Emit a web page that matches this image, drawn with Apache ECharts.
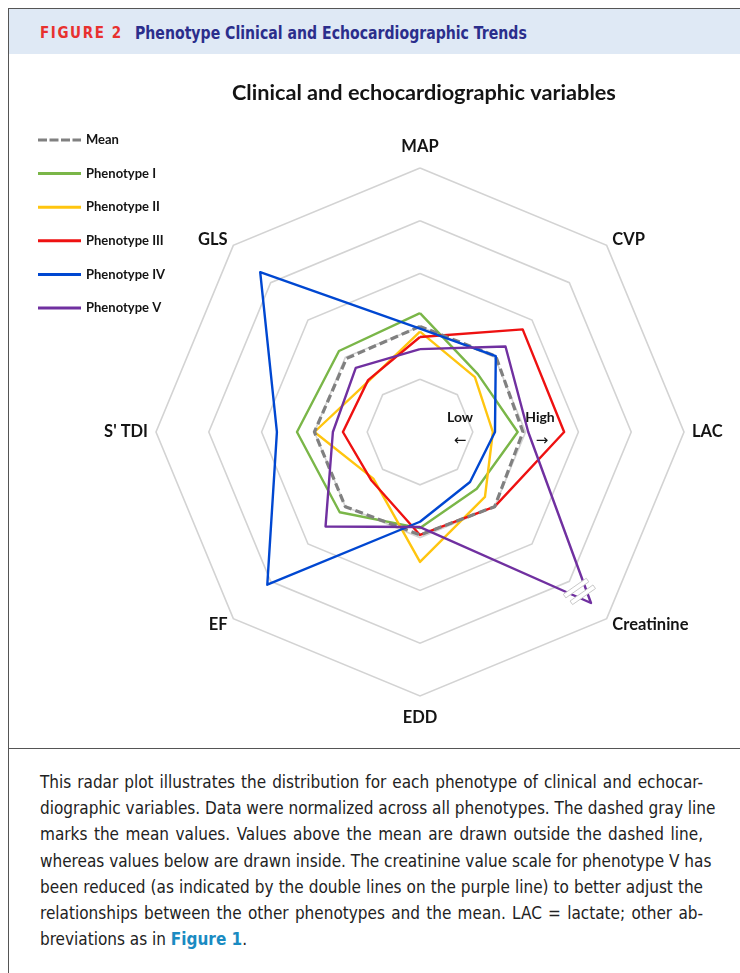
<!DOCTYPE html>
<html>
<head>
<meta charset="utf-8">
<script src="https://cdn.jsdelivr.net/npm/echarts@6/dist/echarts.min.js"></script>
<style>
  body { margin: 0; width: 740px; height: 973px; background: #fff; position: relative; overflow: hidden; }
  #frameTop { position: absolute; left: 8px; top: 8px; width: 732px; height: 0; border-top: 1.5px solid #555; }
  #frameLeft { position: absolute; left: 8px; top: 8px; width: 0; height: 965px; border-left: 1.5px solid #555; }
  #header { position: absolute; left: 9px; top: 9px; width: 731px; height: 45px; background: #dfe9f5; }
  #header span { position: absolute; font-family: "DejaVu Sans Condensed", sans-serif; font-weight: bold; white-space: nowrap; transform-origin: left center; }
  #fig { left: 31px; top: 15px; font-size: 15px; letter-spacing: 1.6px; color: #e8312f; }
  #ttl { left: 126px; top: 13px; font-size: 18px; color: #2b2e8c; transform: scaleX(0.87); }
  #rule { position: absolute; left: 8px; top: 748px; width: 732px; height: 0; border-top: 1.5px solid #555; }
  #chart { position: absolute; left: 0; top: 0; width: 740px; height: 748px; }
  #caption { position: absolute; left: 40px; top: 769px; font-family: "DejaVu Sans Condensed", sans-serif; font-size: 17px; line-height: 26.2px; color: #222; }
  #caption div { width: 663px; white-space: nowrap; text-align: justify; text-align-last: justify; }
  #caption div.last { text-align-last: left; }
  #caption b { color: #1a8bc2; }
</style>
</head>
<body>
<div id="header"><span id="fig">FIGURE 2</span><span id="ttl">Phenotype Clinical and Echocardiographic Trends</span></div>
<div id="frameTop"></div>
<div id="frameLeft"></div>
<div id="rule"></div>
<div id="chart"></div>
<div id="caption">
  <div>This radar plot illustrates the distribution for each phenotype of clinical and echocar-</div>
  <div>diographic variables. Data were normalized across all phenotypes. The dashed gray line</div>
  <div>marks the mean values. Values above the mean are drawn outside the dashed line,</div>
  <div>whereas values below are drawn inside. The creatinine value scale for phenotype V has</div>
  <div>been reduced (as indicated by the double lines on the purple line) to better adjust the</div>
  <div>relationships between the other phenotypes and the mean. LAC = lactate; other ab-</div>
  <div class="last">breviations as in <b>Figure 1</b>.</div>
</div>
<script>
// axes listed counter-clockwise from the top, the way echarts lays out radar indicators
const axes = ['MAP', 'GLS', "S' TDI", 'EF', 'EDD', 'Creatinine', 'LAC', 'CVP'];

const mean   = [2.0, 1.97, 2.0, 2.0, 1.95, 2.0, 1.95, 2.03];
const phenoI   = [2.25, 2.17, 2.33, 2.15, 1.82, 1.52, 1.85, 1.55];
const phenoII  = [1.9, 1.37, 2.0, 1.25, 2.46, 1.74, 1.38, 1.47];
const phenoIII = [1.8, 1.39, 1.46, 1.3, 1.95, 2.0, 2.73, 2.75];
const phenoIV  = [1.96, 4.28, 2.71, 4.09, 1.7, 1.34, 1.42, 2.03];
const phenoV   = [1.57, 1.72, 1.65, 2.53, 1.8, 4.58, 2.05, 2.29];

const names = ['Mean', 'Phenotype I', 'Phenotype II', 'Phenotype III', 'Phenotype IV', 'Phenotype V'];
const colors = ['#808080', '#7ab648', '#ffc50f', '#ee1111', '#0047d1', '#7030a0'];
const values = [mean, phenoI, phenoII, phenoIII, phenoIV, phenoV];

const axisMax = 5;
const cx = 420, cy = 432, R = 264;

const dashIcon = 'path://M0 0h9v3h-9zM11.5 0h9v3h-9zM23 0h9v3h-9zM34.5 0h8.5v3h-8.5z';

// draw order: mean under the blue and purple lines
const drawOrder = [1, 2, 3, 0, 4, 5];
const seriesData = drawOrder.map(i => ({
  name: names[i],
  value: values[i],
  symbol: 'none',
  itemStyle: { color: colors[i] },
  lineStyle: {
    color: colors[i],
    width: i === 0 ? 3.2 : 2.4,
    type: i === 0 ? [8, 4] : 'solid'
  }
}));

// the double "break" marks on phenotype V's creatinine spike
function breakMark(v) {
  const r = v / axisMax * R;
  const x = cx + r * Math.SQRT1_2, y = cy + r * Math.SQRT1_2;
  const a = 35 * Math.PI / 180, half = 14, w = 2.2;
  const dx = Math.cos(a) * half, dy = -Math.sin(a) * half;
  const nx = Math.sin(a) * w, ny = Math.cos(a) * w;
  return {
    type: 'polygon', z: 100,
    shape: { points: [[x - dx - nx, y - dy - ny], [x + dx - nx, y + dy - ny], [x + dx + nx, y + dy + ny], [x - dx + nx, y - dy + ny]] },
    style: { fill: '#fff', stroke: '#c8c8c8', lineWidth: 1 }
  };
}

const chart = echarts.init(document.getElementById('chart'));
chart.setOption({
  animation: false,
  textStyle: { fontFamily: 'Lato' },
  title: {
    text: 'Clinical and echocardiographic variables',
    left: 227, top: 77,
    textStyle: { fontFamily: 'Lato', fontWeight: 'bold', fontSize: 21.7, color: '#141414' }
  },
  legend: {
    orient: 'vertical',
    left: 38, top: 133,
    padding: 0,
    itemWidth: 43, itemHeight: 3,
    itemGap: 19.6,
    data: names.map((n, i) => ({ name: n, icon: i === 0 ? dashIcon : 'rect' })),
    itemStyle: { borderWidth: 0 },
    textStyle: { fontFamily: 'Lato', fontWeight: 'bold', fontSize: 13, lineHeight: 14, color: '#141414' }
  },
  radar: {
    center: [cx, cy],
    radius: R,
    startAngle: 90,
    shape: 'polygon',
    splitNumber: 5,
    nameGap: 8,
    indicator: axes.map(a => ({ name: a, min: 0, max: axisMax })),
    axisName: { color: '#141414', fontFamily: 'Lato', fontWeight: 'bold', fontSize: 16.5, padding: [5, 0, 5, 0] },
    splitLine: { lineStyle: { color: '#d3d3d3', width: 1.6 } },
    splitArea: { show: false },
    axisLine: { show: false },
    axisTick: { show: false },
    axisLabel: { show: false }
  },
  series: [{
    type: 'radar',
    symbol: 'none',
    data: seriesData
  }],
  graphic: [
    { type: 'text', z: 100, x: 460, y: 417, style: { text: 'Low', fontFamily: 'Lato', fontWeight: 'bold', fontSize: 14, fill: '#141414', align: 'center', verticalAlign: 'middle' } },
    { type: 'text', z: 100, x: 540, y: 417, style: { text: 'High', fontFamily: 'Lato', fontWeight: 'bold', fontSize: 14, fill: '#141414', align: 'center', verticalAlign: 'middle' } },
    { type: 'text', z: 100, x: 460, y: 441, style: { text: '←', fontFamily: 'DejaVu Sans', fontSize: 15, fill: '#141414', align: 'center', verticalAlign: 'middle' } },
    { type: 'text', z: 100, x: 542, y: 441, style: { text: '→', fontFamily: 'DejaVu Sans', fontSize: 15, fill: '#141414', align: 'center', verticalAlign: 'middle' } },
    breakMark(4.18),
    breakMark(4.36)
  ]
});
</script>
</body>
</html>
